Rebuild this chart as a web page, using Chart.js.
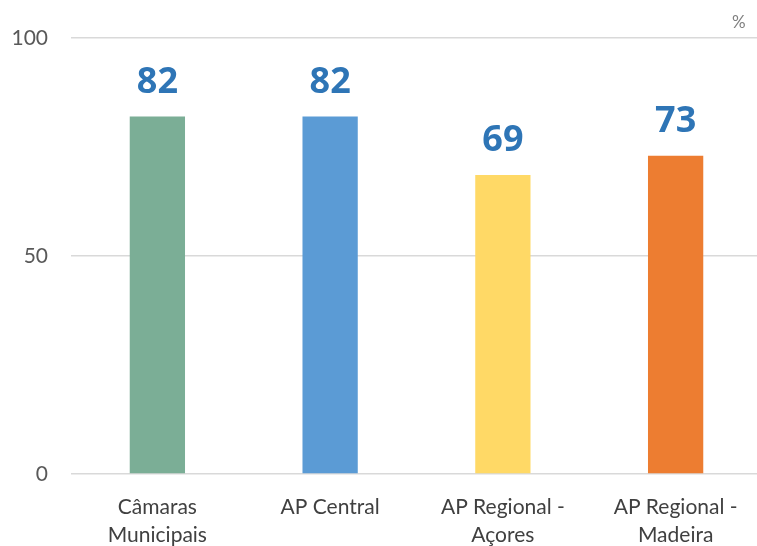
<!DOCTYPE html>
<html>
<head>
<meta charset="utf-8">
<script src="https://cdn.jsdelivr.net/npm/chart.js@4/dist/chart.umd.min.js"></script>
<style>
  html, body { margin: 0; padding: 0; background: #fff; overflow: hidden; }
  #wrap { width: 762px; height: 546px; position: relative; }
  #unit { position: absolute; left: 732px; top: 11px; font: 17px Lato, sans-serif; color: #7f7f7f; }
</style>
</head>
<body>
<div id="wrap">
  <canvas id="chart" width="762" height="546"></canvas>
  <div id="unit">%</div>
</div>
<script>
const categories = [['Câmaras', 'Municipais'], 'AP Central', ['AP Regional -', 'Açores'], ['AP Regional -', 'Madeira']];
const values = [82, 82, 68.6, 73];
const barColors = ['#7BAE96', '#5B9BD5', '#FFD966', '#ED7D31'];
const yTicks = [0, 50, 100];

// draw the value above each bar
const valueLabels = {
    id: 'valueLabels',
    afterDatasetsDraw(chart) {
        const ctx = chart.ctx;
        const meta = chart.getDatasetMeta(0);
        ctx.save();
        ctx.font = 'bold 36px "Open Sans", sans-serif';
        ctx.fillStyle = '#2E75B6';
        ctx.textAlign = 'center';
        ctx.textBaseline = 'middle';
        meta.data.forEach((bar, i) => {
            ctx.fillText(Math.round(values[i]), bar.x, bar.y - 34);
        });
        ctx.restore();
    }
};

new Chart(document.getElementById('chart').getContext('2d'), {
    type: 'bar',
    data: {
        labels: categories,
        datasets: [{
            data: values,
            backgroundColor: barColors,
            barPercentage: 0.32,
            categoryPercentage: 1
        }]
    },
    options: {
        responsive: false,
        animation: false,
        layout: { padding: { top: 38, left: 0, right: 0, bottom: 0 } },
        plugins: { legend: { display: false }, tooltip: { enabled: false } },
        scales: {
            x: {
                grid: { display: false },
                border: { display: false },
                ticks: {
                    color: '#404040',
                    font: { family: 'Lato', size: 21, lineHeight: 1.3 },
                    padding: 12,
                    maxRotation: 0
                },
                afterFit(axis) { axis.height = 72; }
            },
            y: {
                min: 0,
                max: 100,
                afterBuildTicks(axis) { axis.ticks = yTicks.map(v => ({ value: v })); },
                grid: { color: '#d9d9d9', lineWidth: 1.5, drawTicks: false },
                border: { display: false },
                ticks: {
                    color: '#595959',
                    font: { family: 'Lato', size: 21 },
                    padding: 23
                },
                afterFit(axis) { axis.width = 71; }
            }
        }
    },
    plugins: [valueLabels]
});
</script>
</body>
</html>
